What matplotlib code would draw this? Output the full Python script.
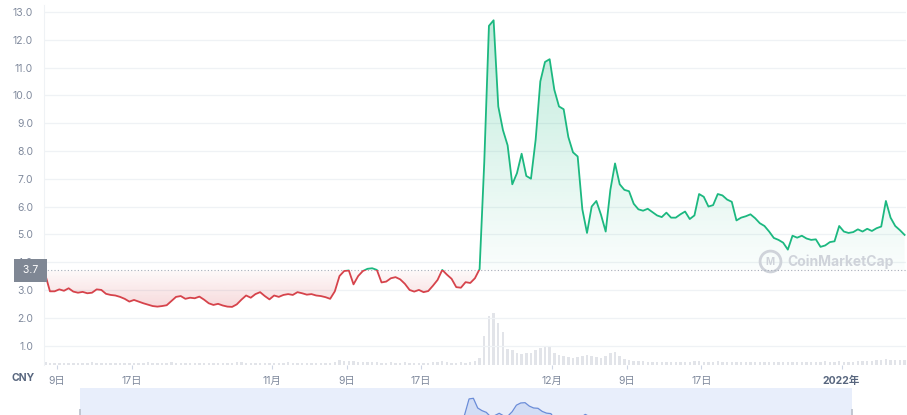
import numpy as np
import pandas as pd
import matplotlib
matplotlib.use("Agg")
import matplotlib.pyplot as plt
import matplotlib.dates as mdates
import matplotlib.colors as mcolors
from matplotlib.patches import Rectangle

plt.rcParams['font.family'] = ['Inter', 'Noto Sans CJK SC', 'DejaVu Sans']

# --- data (12h steps) ---
times = pd.date_range("2021-10-07 18:00", periods=185, freq="12h")

price = [
    3.55, 2.95, 2.95, 3.02, 2.97, 3.06, 2.94, 2.90, 2.93, 2.88,
    2.90, 3.02, 3.00, 2.86, 2.82, 2.80, 2.75, 2.68, 2.58, 2.64,
    2.58, 2.52, 2.47, 2.42, 2.40, 2.42, 2.45, 2.60, 2.75, 2.78,
    2.68, 2.72, 2.70, 2.76, 2.65, 2.52, 2.46, 2.50, 2.44, 2.40,
    2.39, 2.48, 2.65, 2.80, 2.72, 2.85, 2.92, 2.78, 2.66, 2.80,
    2.75, 2.82, 2.85, 2.82, 2.92, 2.88, 2.83, 2.85, 2.80, 2.78,
    2.74, 2.68, 2.95, 3.50, 3.68, 3.70, 3.20, 3.50, 3.68, 3.76,
    3.78, 3.72, 3.27, 3.30, 3.42, 3.46, 3.38, 3.22, 3.00, 2.94,
    3.00, 2.92, 2.96, 3.15, 3.36, 3.72, 3.55, 3.40, 3.10, 3.08,
    3.28, 3.25, 3.42, 3.75, 7.60, 12.50, 12.70, 9.60, 8.75, 8.20,
    6.80, 7.20, 7.90, 7.10, 7.00, 8.40, 10.50, 11.20, 11.30, 10.20,
    9.60, 9.50, 8.50, 7.95, 7.80, 5.90, 5.05, 6.00, 6.20, 5.70,
    5.10, 6.60, 7.55, 6.80, 6.60, 6.55, 6.10, 5.90, 5.85, 5.92,
    5.80, 5.68, 5.62, 5.78, 5.60, 5.60, 5.72, 5.82, 5.55, 5.68,
    6.45, 6.35, 6.00, 6.05, 6.45, 6.40, 6.25, 6.17, 5.50, 5.60,
    5.65, 5.72, 5.58, 5.40, 5.30, 5.10, 4.87, 4.80, 4.70, 4.45,
    4.95, 4.88, 4.95, 4.85, 4.80, 4.82, 4.55, 4.60, 4.72, 4.75,
    5.30, 5.10, 5.05, 5.08, 5.18, 5.10, 5.20, 5.12, 5.22, 5.28,
    6.20, 5.60, 5.30, 5.15, 4.98,
]

volume = [
    2.5, 2.0, 1.8, 2.2, 1.6, 2.0, 1.8, 2.4, 1.7, 2.1,
    2.6, 2.0, 1.8, 2.2, 1.9, 2.3, 1.7, 2.0, 2.4, 1.8,
    2.1, 1.9, 2.5, 2.0, 1.7, 2.2, 1.8, 2.6, 2.0, 1.9,
    2.3, 1.8, 2.1, 2.4, 1.9, 2.0, 1.7, 2.2, 1.8, 2.1,
    2.0, 2.5, 2.8, 2.2, 1.9, 2.4, 2.1, 1.8, 2.3, 2.0,
    1.9, 2.2, 2.6, 2.0, 1.8, 2.3, 2.1, 1.9, 2.2, 2.0,
    2.1, 2.4, 3.2, 4.5, 3.8, 4.2, 3.5, 3.0, 3.4, 2.8,
    2.6, 3.0, 2.4, 2.2, 2.5, 2.0, 2.3, 2.6, 2.1, 1.9,
    2.2, 2.0, 2.4, 2.7, 3.1, 3.6, 2.8, 2.4, 2.2, 2.6,
    2.4, 3.0, 4.2, 6.5, 29, 49, 52, 42, 33, 16,
    15, 12, 11, 12, 12, 15, 17, 19, 18, 12,
    10, 9, 8, 7, 8, 9, 10, 9, 8, 7,
    9, 12, 13, 9, 6, 5, 4.2, 3.8, 3.5, 3.2,
    3.0, 3.4, 2.9, 3.1, 2.8, 3.0, 3.3, 2.7, 3.0, 3.6,
    3.8, 3.4, 3.0, 3.2, 3.5, 3.1, 2.9, 3.0, 3.3, 2.8,
    3.0, 2.9, 3.1, 2.8, 3.2, 3.0, 3.4, 3.1, 2.9, 3.3,
    3.0, 3.2, 2.8, 3.1, 3.4, 3.0, 3.3, 3.5, 3.2, 3.0,
    3.6, 3.3, 3.1, 3.4, 3.8, 3.5, 4.2, 4.0, 4.5, 4.8,
    5.6, 5.0, 4.6, 5.2, 4.8,
]

open_price = 3.7
tick_dates = pd.to_datetime(["2021-10-09", "2021-10-17", "2021-11-01", "2021-11-09",
                             "2021-11-17", "2021-12-01", "2021-12-09", "2021-12-17",
                             "2022-01-01"])
tick_labels = ["9日", "17日", "11月", "9日", "17日", "12月", "9日", "17日", "2022年"]
y_ticks = np.arange(1, 14)

x_range = (pd.Timestamp("2021-10-07 14:40"), pd.Timestamp("2022-01-07 21:40"))
nav_range = (pd.Timestamp("2021-10-05 21:00"), pd.Timestamp("2022-01-14 00:00"))
nav_window = (pd.Timestamp("2021-10-10 02:00"), pd.Timestamp("2022-01-07 18:00"))

GREEN = "#1cb880"
RED = "#d6434b"
GREY = "#808a9d"

# --- figure / axes ---
fig = plt.figure(figsize=(9.07, 4.15), dpi=100)
rect = [0.0485, 0.1205, 0.9504, 0.8675]
ax_vol = fig.add_axes(rect)
ax = fig.add_axes(rect)
ax.patch.set_alpha(0)


def gradient_fill(ax, x, y, base, color, a_top, a_bot, ylo, yhi):
    poly = ax.fill_between(x, y, base, facecolor="none", edgecolor="none")
    path = poly.get_paths()[0]
    grad = np.zeros((256, 1, 4))
    grad[:, 0, :3] = mcolors.to_rgb(color)
    grad[:, 0, 3] = np.linspace(a_top, a_bot, 256)
    xn = mdates.date2num(x)
    im = ax.imshow(grad, aspect="auto", origin="upper", zorder=1,
                   extent=[xn[0], xn[-1], ylo, yhi])
    im.set_clip_path(path, transform=ax.transData)


# volume bars behind the price
ax_vol.bar(times, volume, width=0.26, color="#e2e4e9", linewidth=0)
ax_vol.set_xlim(x_range)
ax_vol.set_ylim(0, max(volume) * 6.9)
ax_vol.axis("off")

# price area + line, green above the open price, red below
gradient_fill(ax, times, price, open_price, GREEN, 0.30, 0.02, open_price, 13.25)
gradient_fill(ax, times, price, open_price, RED, 0.03, 0.22, 2.2, open_price)

x0 = mdates.date2num(times[0]) - 20
ln_g, = ax.plot(times, price, color=GREEN, lw=1.3, zorder=4)
ln_g.set_clip_path(Rectangle((x0, open_price), 300, 50, transform=ax.transData))
ln_r, = ax.plot(times, price, color=RED, lw=1.3, zorder=4)
ln_r.set_clip_path(Rectangle((x0, -10), 300, 10 + open_price, transform=ax.transData))

ax.axhline(open_price, color="#a6adb9", lw=0.8, ls=(0, (1, 2)), zorder=3)
ax.text(-0.0035, open_price, " 3.7 ", transform=ax.get_yaxis_transform(),
        ha="right", va="center", color="white", fontsize=7.5, zorder=10, clip_on=False,
        bbox=dict(boxstyle="square,pad=0.6", fc="#7f8794", ec="none"))

ax.set_xlim(x_range)
ax.set_ylim(0.30, 13.25)
ax.set_yticks(y_ticks)
ax.set_yticklabels([f"{v:.1f}" for v in y_ticks])
ax.set_xticks(tick_dates)
ax.set_xticklabels(tick_labels)
ax.tick_params(axis="y", length=0, pad=8, labelsize=7.5, labelcolor=GREY)
ax.tick_params(axis="x", length=3, color="#cfd6e4", pad=5, labelsize=7.5, labelcolor=GREY)
last = ax.get_xticklabels()[-1]
last.set_fontweight("bold")
last.set_color("#58667e")
ax.grid(axis="y", color="#eff2f5", lw=0.9)
ax.set_axisbelow(True)
for s in ["top", "right", "bottom"]:
    ax.spines[s].set_visible(False)
ax.spines["left"].set_color("#eff2f5")

fig.text(0.013, 0.088, "CNY", fontsize=7.5, fontweight="bold", color="#58667e", va="center")

# watermark
ax.plot([0.842], [0.288], marker="o", ms=15, mfc="none", mec="#cfd3da", mew=2,
        transform=ax.transAxes, clip_on=False)
ax.text(0.842, 0.286, "M", transform=ax.transAxes, ha="center", va="center",
        fontsize=7, fontweight="bold", color="#cfd3da")
ax.text(0.862, 0.288, "CoinMarketCap", transform=ax.transAxes, ha="left", va="center",
        fontsize=10, fontweight="bold", color="#cfd3da")

# --- navigator (cut off at the bottom) ---
ax_nav = fig.add_axes([0.0485, -0.0554, 0.9504, 0.1205])
ax_nav.axvspan(nav_window[0], nav_window[1], color="#e8eefb", lw=0)
ax_nav.fill_between(times, price, 0, color="#c9d6f3", alpha=0.7, lw=0)
ax_nav.plot(times, price, color="#6a8cd8", lw=0.9)
ax_nav.plot([nav_window[0], nav_window[1]], [8.0, 8.0], ls="none", marker="|",
            ms=6, mew=1.2, color="#b8bec9")
ax_nav.set_xlim(nav_range)
ax_nav.set_ylim(0, 16)
ax_nav.axis("off")

fig.savefig("out.png", dpi=100, facecolor="white")
